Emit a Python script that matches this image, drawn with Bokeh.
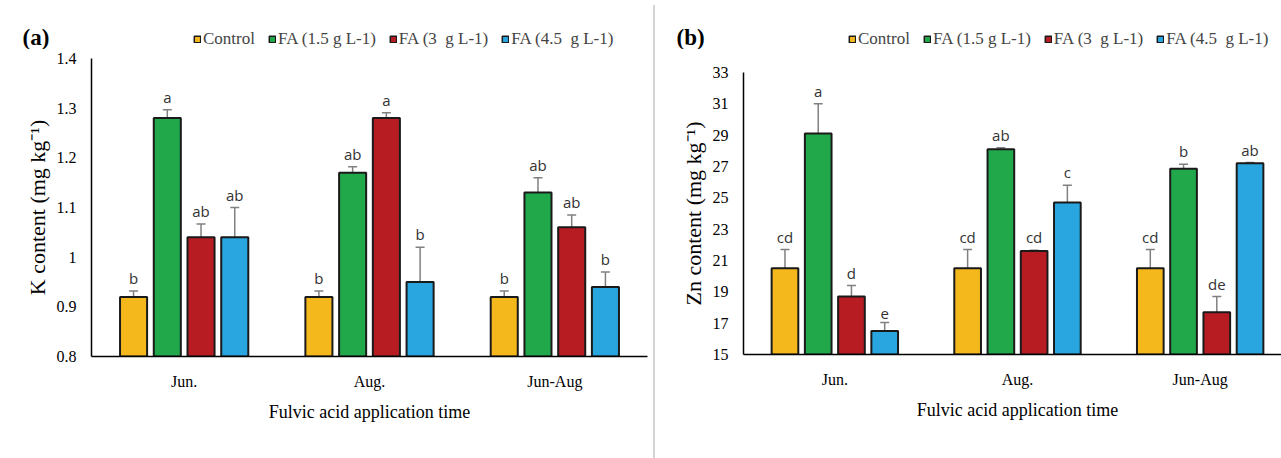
from bokeh.plotting import figure
from bokeh.models import (ColumnDataSource, Range1d, FixedTicker, Whisker, LabelSet,
                          Legend, LegendItem, Label, Div, TeeHead)
from bokeh.core.properties import value
from bokeh.transform import dodge
from bokeh.layouts import row, column
from bokeh.embed import file_html
from bokeh.resources import INLINE

# ---------------- data ----------------
categories = ["Jun.", "Aug.", "Jun-Aug"]
series = ["Control", "FA (1.5 g L-1)", "FA (3  g L-1)", "FA (4.5  g L-1)"]
colors = ["#F5B81C", "#20A84B", "#B71C23", "#29A6DF"]

# Panel (a): K content
k_control = [0.92, 0.92, 0.92]
k_control_err = [0.012, 0.012, 0.012]
k_fa15 = [1.28, 1.17, 1.13]
k_fa15_err = [0.017, 0.012, 0.03]
k_fa3 = [1.04, 1.28, 1.06]
k_fa3_err = [0.027, 0.011, 0.025]
k_fa45 = [1.04, 0.95, 0.94]
k_fa45_err = [0.06, 0.07, 0.03]
k_letters_control = ["b", "b", "b"]
k_letters_fa15 = ["a", "ab", "ab"]
k_letters_fa3 = ["ab", "a", "ab"]
k_letters_fa45 = ["ab", "b", "b"]
k_ticks = [0.8, 0.9, 1.0, 1.1, 1.2, 1.3, 1.4]
k_tick_labels = ["0.8", "0.9", "1", "1.1", "1.2", "1.3", "1.4"]

# Panel (b): Zn content
zn_control = [20.5, 20.5, 20.5]
zn_control_err = [1.2, 1.2, 1.2]
zn_fa15 = [29.1, 28.1, 26.85]
zn_fa15_err = [1.9, 0.1, 0.3]
zn_fa3 = [18.7, 21.6, 17.7]
zn_fa3_err = [0.7, 0.05, 1.0]
zn_fa45 = [16.5, 24.7, 27.2]
zn_fa45_err = [0.55, 1.1, 0.05]
zn_letters_control = ["cd", "cd", "cd"]
zn_letters_fa15 = ["a", "ab", "b"]
zn_letters_fa3 = ["d", "cd", "de"]
zn_letters_fa45 = ["e", "c", "ab"]
zn_ticks = [15, 17, 19, 21, 23, 25, 27, 29, 31, 33]
zn_tick_labels = [str(t) for t in zn_ticks]

x_title = "Fulvic acid application time"

SERIF = "Liberation Serif"
SANS = "Open Sans"
offsets = [-0.273, -0.091, 0.091, 0.273]
BAR_W = 0.146
H = 458
HEAD_H = 49
BAR_LINE = "#1a1a1a"


def no_align(p):
    try:
        p.frame_align = False
    except Exception:
        pass


def make_sources(vals, errs, letters):
    cat_pos = [i + 0.5 for i in range(len(categories))]
    srcs = []
    for i in range(4):
        up = [v + e for v, e in zip(vals[i], errs[i])]
        lo = [v - e for v, e in zip(vals[i], errs[i])]
        srcs.append(ColumnDataSource(dict(x=cat_pos, top=vals[i], upper=up, lower=lo,
                                          label=letters[i])))
    return srcs


def make_header(tag, width, srcs, y0, legend_x, tag_x):
    h = figure(width=width, height=HEAD_H, output_backend="svg", toolbar_location=None,
               x_range=Range1d(0, 1), y_range=Range1d(1000, 1001),
               x_axis_location=None, y_axis_location=None,
               min_border=0, min_border_left=0, min_border_right=0,
               min_border_top=0, min_border_bottom=0)
    no_align(h)
    h.outline_line_color = None
    h.grid.visible = False
    items = []
    for i in range(4):
        # legend proxy: same data as the panel's bars, not drawn in the header
        r = h.vbar(x=dodge("x", offsets[i]), top="top", bottom=y0, width=BAR_W,
                   source=srcs[i], fill_color=colors[i], line_color=BAR_LINE,
                   line_width=1.5)
        r.visible = False
        items.append(LegendItem(label=series[i], renderers=[r]))
    legend = Legend(items=items, orientation="horizontal", location=(legend_x, 0),
                    label_text_font=SERIF, label_text_font_size="17px",
                    glyph_width=8, glyph_height=8, label_standoff=2, spacing=13,
                    padding=0, margin=0, border_line_alpha=0,
                    background_fill_alpha=0, label_height=16)
    h.add_layout(legend)
    h.add_layout(Label(x=tag_x, y=0, x_units="screen", y_units="screen", text=tag,
                       text_font=SERIF, text_font_style="bold", text_font_size="23px",
                       text_baseline="bottom", text_color="black"))
    return h


def make_panel(ytitle, srcs, ticks, tick_labels, y0, y1,
               width, bl, br, bt, bb, x_end):
    cat_pos = [i + 0.5 for i in range(len(categories))]
    p = figure(width=width, height=H - HEAD_H, output_backend="svg",
               toolbar_location=None,
               x_range=Range1d(0, x_end), y_range=Range1d(y0, y1),
               min_border_left=bl, min_border_right=br, min_border_top=bt,
               min_border_bottom=bb)
    no_align(p)
    p.outline_line_color = None
    p.grid.visible = False

    for i in range(4):
        src = srcs[i]
        p.vbar(x=dodge("x", offsets[i]), top="top", bottom=y0, width=BAR_W,
               source=src, fill_color=colors[i], line_color=BAR_LINE, line_width=2)
        w = Whisker(source=src, base=dodge("x", offsets[i]), upper="upper",
                    lower="lower", line_color="#808080", line_width=1.5,
                    upper_head=TeeHead(size=9, line_color="#808080", line_width=1.5),
                    lower_head=TeeHead(size=9, line_color="#808080", line_width=1.5))
        p.add_layout(w)
        ls = LabelSet(source=src, x=dodge("x", offsets[i]), y="upper", text="label",
                      text_align="center", text_baseline="bottom", y_offset=3,
                      text_font=value(SANS), text_font_size=value("15px"),
                      text_color=value("#333333"))
        p.add_layout(ls)

    # axes
    p.xaxis.ticker = FixedTicker(ticks=cat_pos)
    p.xaxis.major_label_overrides = dict(zip(cat_pos, categories))
    p.yaxis.ticker = FixedTicker(ticks=ticks)
    p.yaxis.major_label_overrides = dict(zip(ticks, tick_labels))
    for ax in (p.xaxis, p.yaxis):
        ax.axis_line_color = "black"
        ax.axis_line_width = 1.5
        ax.major_tick_line_color = None
        ax.minor_tick_line_color = None
        ax.major_tick_out = 0
        ax.major_tick_in = 0
        ax.minor_tick_out = 0
        ax.major_label_text_font = SERIF
        ax.major_label_text_font_size = "16px"
        ax.major_label_text_color = "black"
        ax.axis_label_text_font = SERIF
        ax.axis_label_text_font_style = "normal"
        ax.axis_label_text_color = "black"
    p.xaxis.axis_label = x_title
    p.xaxis.axis_label_text_font_size = "18px"
    p.xaxis.major_label_standoff = 16
    p.xaxis.axis_label_standoff = 9
    p.yaxis.axis_label = ytitle
    p.yaxis.axis_label_text_font_size = "22px"
    p.yaxis.major_label_standoff = 15
    p.yaxis.axis_label_standoff = 4
    return p


srcs_a = make_sources([k_control, k_fa15, k_fa3, k_fa45],
                      [k_control_err, k_fa15_err, k_fa3_err, k_fa45_err],
                      [k_letters_control, k_letters_fa15, k_letters_fa3, k_letters_fa45])
srcs_b = make_sources([zn_control, zn_fa15, zn_fa3, zn_fa45],
                      [zn_control_err, zn_fa15_err, zn_fa3_err, zn_fa45_err],
                      [zn_letters_control, zn_letters_fa15, zn_letters_fa3, zn_letters_fa45])

ha = make_header("(a)", 648, srcs_a, 0.8, legend_x=193, tag_x=22)
pa = make_panel("K content (mg kg\u207b\u00b9)", srcs_a, k_ticks, k_tick_labels, 0.8, 1.4,
                width=648, bl=91, br=1, bt=58 - HEAD_H, bb=102, x_end=3.0)

hb = make_header("(b)", 631, srcs_b, 15, legend_x=188, tag_x=16)
pb = make_panel("Zn content (mg kg\u207b\u00b9)", srcs_b, zn_ticks, zn_tick_labels, 15, 33,
                width=631, bl=83, br=0, bt=72 - HEAD_H, bb=104, x_end=3.0)

sep = Div(text="", width=2, height=H, styles={"background-color": "#d4d4d4"})

layout = row(column(ha, pa), sep, column(hb, pb))
open("out.html", "w").write(file_html(layout, INLINE))
